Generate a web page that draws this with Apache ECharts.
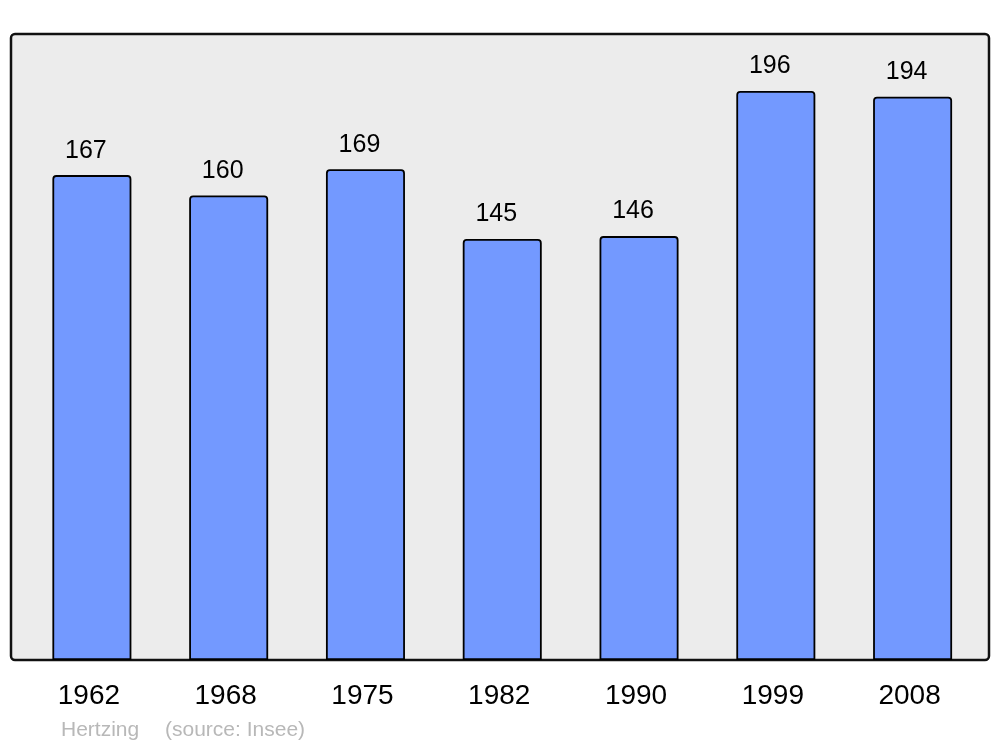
<!DOCTYPE html>
<html>
<head>
<meta charset="utf-8">
<script src="https://cdn.jsdelivr.net/npm/echarts@6/dist/echarts.min.js"></script>
<style>html,body{margin:0;padding:0;background:#fff}#c{width:1000px;height:747px}</style>
</head>
<body>
<div id="c"></div>
<script>
const years = ['1962','1968','1975','1982','1990','1999','2008'];
const population = [167,160,169,145,146,196,194];
const footerName = 'Hertzing';
const footerSource = '(source: Insee)';

const chart = echarts.init(document.getElementById('c'), null, {renderer:'canvas'});
chart.setOption({
  animation: false,
  textStyle: {fontFamily: 'Liberation Sans, Arial, sans-serif'},
  graphic: [
    {type:'rect', z:-10, shape:{x:11,y:34,width:978,height:626,r:4},
     style:{fill:'#ececec', stroke:'#111', lineWidth:2.5}},
    {type:'text', x:61, y:720, style:{text:footerName, fill:'#b8b8b8', font:'21px "Liberation Sans", Arial, sans-serif'}},
    {type:'text', x:165, y:720, style:{text:footerSource, fill:'#b8b8b8', font:'21px "Liberation Sans", Arial, sans-serif'}}
  ],
  grid: {left:23.5, right:19, top:34, bottom:87},
  xAxis: {
    type:'category', data: years,
    axisLine:{show:false}, axisTick:{show:false},
    axisLabel:{color:'#000', fontSize:28, margin:22, padding:[0,6,0,0], fontFamily:'Liberation Sans, Arial, sans-serif'}
  },
  yAxis: {
    type:'value', min:0, max:215.6,
    show:false, splitLine:{show:false}
  },
  series: [{
    type:'bar', data: population, barWidth:79,
    itemStyle:{color:'#7399ff', borderColor:'#000', borderWidth:1.8, borderRadius:[3,3,0,0]},
    label:{show:true, position:'top', distance:12, offset:[-6,0], color:'#000', fontSize:25, fontFamily:'Liberation Sans, Arial, sans-serif'}
  }]
});
</script>
</body>
</html>
